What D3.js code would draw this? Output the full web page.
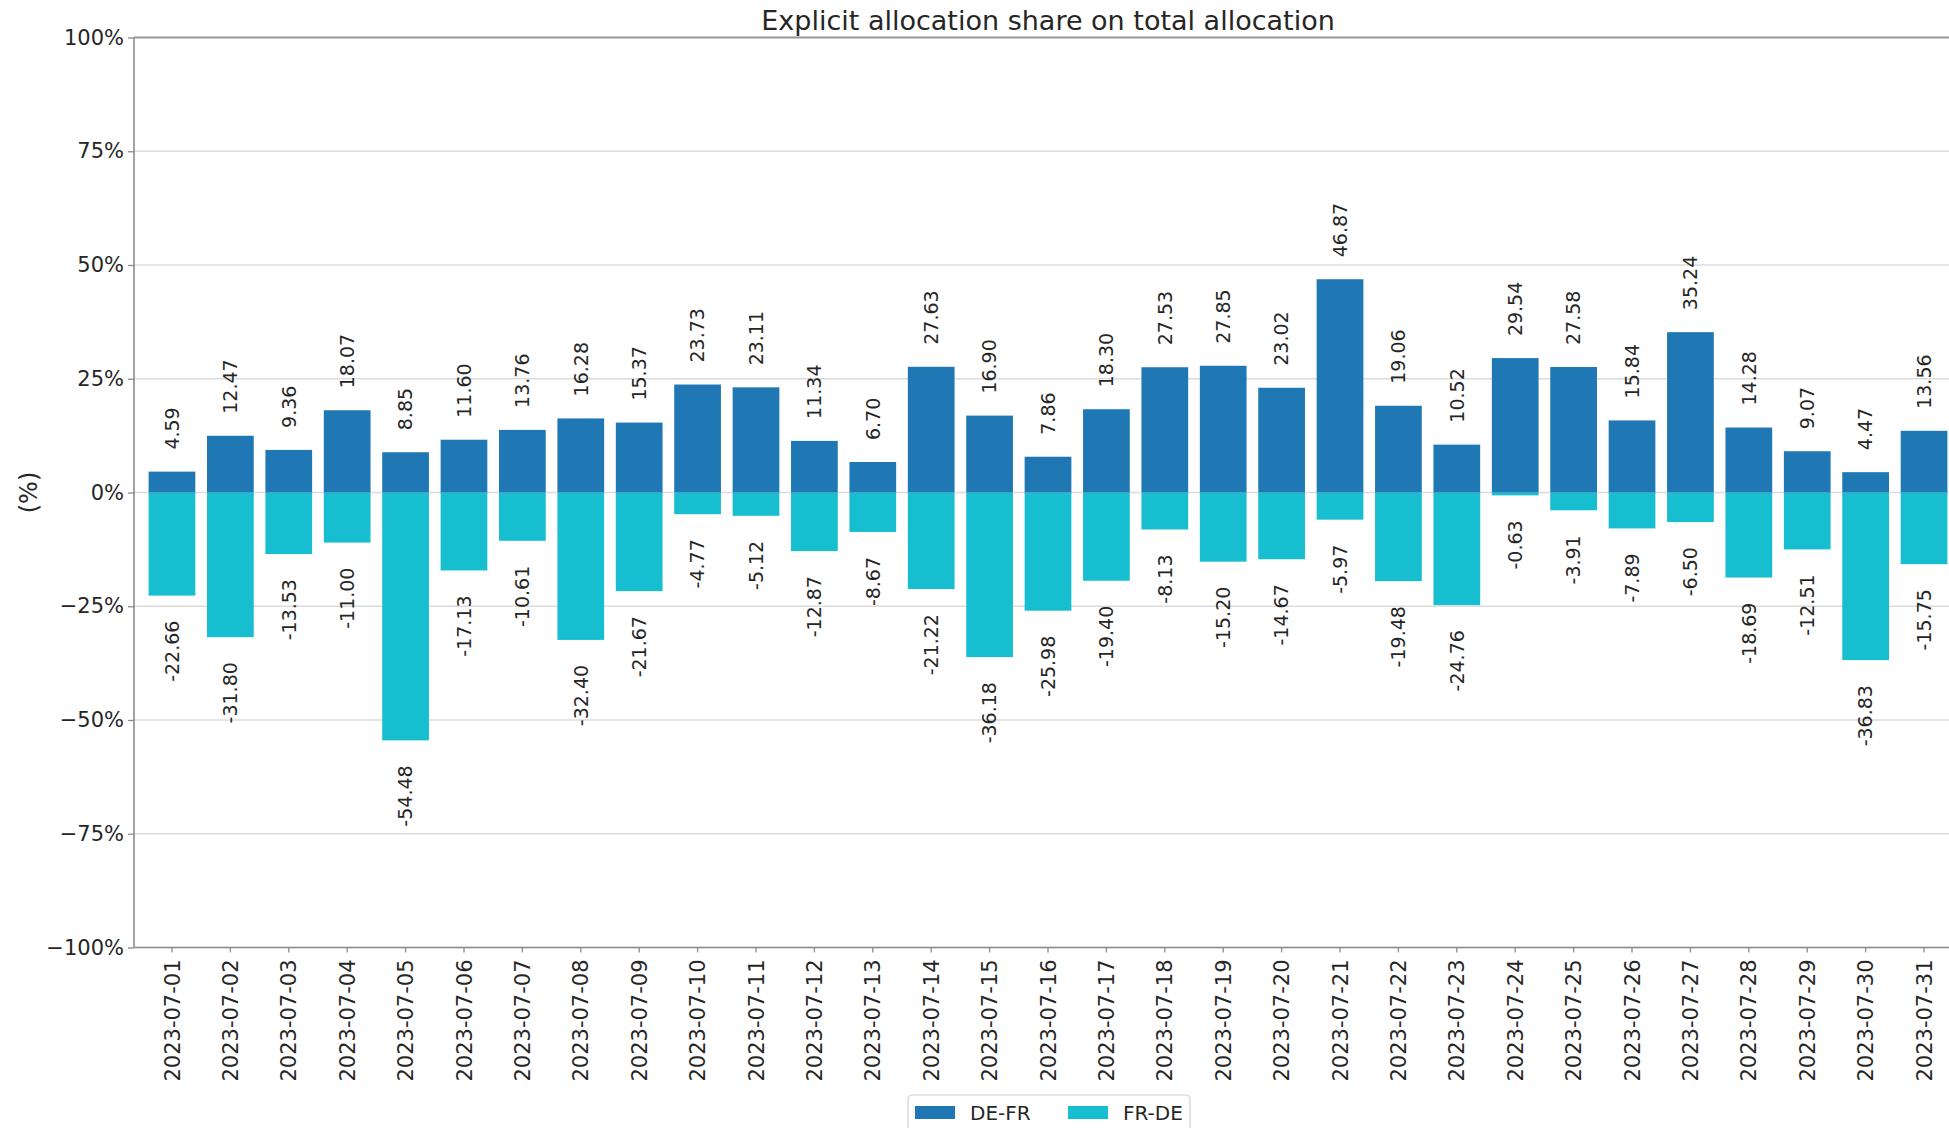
<!DOCTYPE html>
<html>
<head>
<meta charset="utf-8">
<script src="https://cdn.jsdelivr.net/npm/d3@7"></script>
<style>
  html, body { margin: 0; padding: 0; background: #fff; }
  svg { display: block; font-family: "DejaVu Sans", sans-serif; }
</style>
</head>
<body>
<svg id="chart" width="1949" height="1128"></svg>
<script>
// Daily share of explicit allocation (%) per border direction, July 2023
const dates = [
  "2023-07-01","2023-07-02","2023-07-03","2023-07-04","2023-07-05","2023-07-06","2023-07-07",
  "2023-07-08","2023-07-09","2023-07-10","2023-07-11","2023-07-12","2023-07-13","2023-07-14",
  "2023-07-15","2023-07-16","2023-07-17","2023-07-18","2023-07-19","2023-07-20","2023-07-21",
  "2023-07-22","2023-07-23","2023-07-24","2023-07-25","2023-07-26","2023-07-27","2023-07-28",
  "2023-07-29","2023-07-30","2023-07-31"
];
const deFr = [
  4.59, 12.47, 9.36, 18.07, 8.85, 11.60, 13.76, 16.28, 15.37, 23.73, 23.11, 11.34, 6.70, 27.63,
  16.90, 7.86, 18.30, 27.53, 27.85, 23.02, 46.87, 19.06, 10.52, 29.54, 27.58, 15.84, 35.24, 14.28,
  9.07, 4.47, 13.56
];
const frDe = [
  -22.66, -31.80, -13.53, -11.00, -54.48, -17.13, -10.61, -32.40, -21.67, -4.77, -5.12, -12.87,
  -8.67, -21.22, -36.18, -25.98, -19.40, -8.13, -15.20, -14.67, -5.97, -19.48, -24.76, -0.63,
  -3.91, -7.89, -6.50, -18.69, -12.51, -36.83, -15.75
];
const seriesNames = ["DE-FR", "FR-DE"];
const seriesColors = ["#1f77b4", "#17becf"];
const yTicks = [-100, -75, -50, -25, 0, 25, 50, 75, 100];
const titleText = "Explicit allocation share on total allocation";
const yLabel = "(%)";

const svg = d3.select("#chart");
const plot = { left: 134, right: 1962, top: 37.5, bottom: 947.5 };

const x = d3.scaleBand()
  .domain(dates)
  .range([plot.left, plot.right])
  .paddingInner(0.2)
  .paddingOuter(0.25);

const y = d3.scaleLinear()
  .domain([-100, 100])
  .range([plot.bottom, plot.top]);

const fmtPct = d => d3.format("d")(d) + "%";

// horizontal grid
svg.append("g")
  .selectAll("line")
  .data(yTicks)
  .join("line")
  .attr("x1", plot.left).attr("x2", plot.right)
  .attr("y1", d => y(d)).attr("y2", d => y(d))
  .attr("stroke", "#dcdcdc")
  .attr("stroke-width", 1.5);

// bars: one series above zero, the other below
const series = [deFr, frDe];
series.slice().reverse().forEach((vals, ri) => {
  const si = series.length - 1 - ri;
  svg.append("g")
    .selectAll("rect")
    .data(vals.map((v, i) => ({ date: dates[i], v })))
    .join("rect")
    .attr("x", d => x(d.date))
    .attr("width", x.bandwidth())
    .attr("y", d => y(Math.max(0, d.v)))
    .attr("height", d => Math.abs(y(d.v) - y(0)))
    .attr("fill", seriesColors[si]);
});

// value labels
const fmt2 = d3.format(".2f");
series.forEach(vals => {
  svg.append("g")
    .selectAll("text")
    .data(vals.map((v, i) => ({ date: dates[i], v })))
    .join("text")
    .attr("transform", d => {
      const cx = x(d.date) + x.bandwidth() / 2;
      const cy = d.v >= 0 ? y(d.v) - 22 : y(d.v) + 25;
      return `translate(${cx},${cy}) rotate(-90)`;
    })
    .attr("text-anchor", d => d.v >= 0 ? "start" : "end")
    .attr("dy", "0.36em")
    .attr("font-size", 19)
    .attr("fill", "#262626")
    .text(d => fmt2(d.v).replace("\u2212", "-"));
});

// spines
const spine = svg.append("g").attr("stroke", "#8c8c8c").attr("stroke-width", 1.6);
spine.append("line").attr("x1", plot.left).attr("x2", plot.left).attr("y1", plot.top).attr("y2", plot.bottom);
spine.append("line").attr("x1", plot.left).attr("x2", plot.right).attr("y1", plot.top).attr("y2", plot.top).attr("stroke", "#9a9a9a").attr("stroke-width", 2.2);
spine.append("line").attr("x1", plot.left).attr("x2", plot.right).attr("y1", plot.bottom).attr("y2", plot.bottom);
spine.append("line").attr("x1", plot.right).attr("x2", plot.right).attr("y1", plot.top).attr("y2", plot.bottom);

// y axis
const yAxis = svg.append("g")
  .attr("transform", `translate(${plot.left},0)`)
  .call(d3.axisLeft(y).tickValues(yTicks).tickFormat(fmtPct).tickSize(6).tickPadding(4));
yAxis.select(".domain").remove();
yAxis.selectAll(".tick line").attr("stroke", "#8c8c8c").attr("stroke-width", 1.3);
yAxis.selectAll(".tick text")
  .attr("font-size", 21)
  .attr("font-family", "DejaVu Sans, sans-serif")
  .attr("fill", "#262626");

// x axis
const xAxis = svg.append("g")
  .attr("transform", `translate(0,${plot.bottom})`)
  .call(d3.axisBottom(x).tickSize(5).tickPadding(6));
xAxis.select(".domain").remove();
xAxis.selectAll(".tick line").attr("stroke", "#8c8c8c").attr("stroke-width", 1.3);
xAxis.selectAll(".tick text")
  .attr("font-size", 21)
  .attr("font-family", "DejaVu Sans, sans-serif")
  .attr("fill", "#262626")
  .attr("text-anchor", "end")
  .attr("transform", "translate(0,12) rotate(-90)")
  .attr("x", 0)
  .attr("y", 0)
  .attr("dy", "0.36em");

// title
svg.append("text")
  .attr("x", (plot.left + plot.right) / 2)
  .attr("y", 30)
  .attr("text-anchor", "middle")
  .attr("font-size", 27)
  .attr("fill", "#262626")
  .text(titleText);

// y axis label
svg.append("text")
  .attr("transform", `translate(28,${y(0)}) rotate(-90)`)
  .attr("text-anchor", "middle")
  .attr("dy", "0.36em")
  .attr("font-size", 24)
  .attr("fill", "#262626")
  .text(yLabel);

// legend
const legend = svg.append("g").attr("transform", "translate(908,1095)");
legend.append("rect")
  .attr("x", 0).attr("y", 0)
  .attr("width", 282).attr("height", 50)
  .attr("rx", 4)
  .attr("fill", "#fff")
  .attr("stroke", "#d0d0d0")
  .attr("stroke-width", 1.2);
const itemX = [7, 160];
seriesNames.forEach((name, i) => {
  const g = legend.append("g").attr("transform", `translate(${itemX[i]},0)`);
  g.append("rect")
    .attr("x", 0).attr("y", 11)
    .attr("width", 40).attr("height", 13)
    .attr("fill", seriesColors[i]);
  g.append("text")
    .attr("x", 55).attr("y", 18)
    .attr("dy", "0.36em")
    .attr("font-size", 20)
    .attr("fill", "#262626")
    .text(name);
});
</script>
</body>
</html>
